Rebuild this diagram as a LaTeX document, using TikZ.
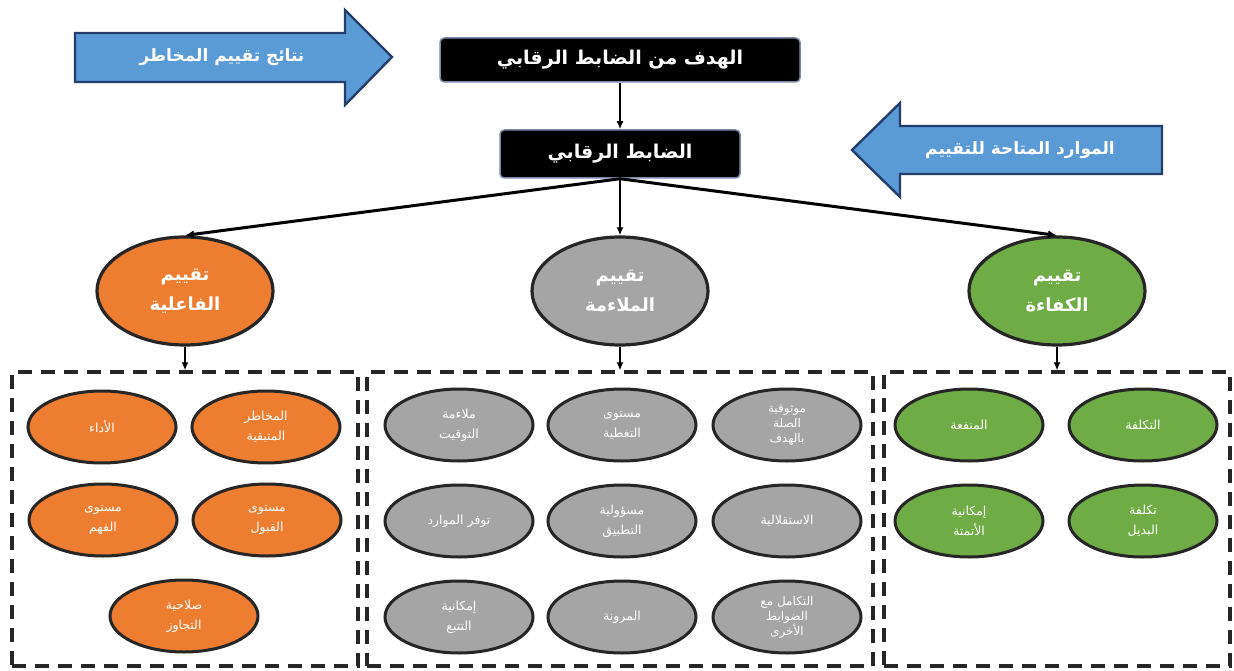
\documentclass[tikz,border=0pt]{standalone}
\usepackage{fontspec}
\usetikzlibrary{shapes.geometric,arrows.meta}
\newfontfamily\arabicfont[Script=Arabic]{DejaVu Sans}
\TeXXeTstate=1
\newcommand{\arl}[1]{\beginR #1\endR}
\definecolor{arrowblue}{HTML}{5B9BD5}
\definecolor{navyedge}{HTML}{233E6B}
\definecolor{effOrange}{HTML}{ED7D31}
\definecolor{fitGray}{HTML}{A5A5A5}
\definecolor{effGreen}{HTML}{6FAC46}
\begin{document}
\begin{tikzpicture}
    [x=1pt, y=-1pt,
    post/.style={-{Latex[length=8pt,width=7pt]},
                 black,
                 line width=2pt},
    fan/.style={-{Latex[length=9pt,width=8pt]},
                black,
                line width=3pt},
    blk/.style={rectangle,
                fill=black,
                draw=navyedge!60,
                line width=1.5pt,
                rounded corners=1.5mm,
                text=white,
                font=\arabicfont\bfseries\fontsize{19}{22}\selectfont},
    blockarrow/.style={fill=arrowblue,
                       draw=navyedge,
                       line width=2.4pt,
                       line join=miter},
    arrowtext/.style={text=white,
                      font=\arabicfont\bfseries\fontsize{17}{20}\selectfont},
    eval/.style={ellipse,
                 draw=black!85,
                 line width=3.2pt,
                 minimum width=176pt,
                 minimum height=108pt,
                 inner sep=0pt,
                 align=center,
                 text=white,
                 font=\arabicfont\bfseries\fontsize{18}{30}\selectfont},
    crit/.style={ellipse,
                 draw=black!85,
                 line width=3pt,
                 minimum width=148pt,
                 minimum height=72pt,
                 inner sep=0pt,
                 align=center,
                 text=white,
                 font=\arabicfont\fontsize{12.5}{20}\selectfont},
    tight/.style={font=\arabicfont\fontsize{12}{15}\selectfont},
    panel/.style={rectangle,
                  draw=black!85,
                  line width=3.2pt,
                  dash pattern=on 14pt off 9pt,
                  minimum height=294pt,
                  inner sep=0pt}]
    \useasboundingbox (0,0) rectangle (1234,671);

    \draw[blockarrow] (75,33) -- (345,33) -- (345,10) -- (392,57)
        -- (345,105) -- (345,82) -- (75,82) -- cycle;
    \node[arrowtext] (riskout) at (222,57) {\arl{نتائج تقييم المخاطر}};
    \draw[blockarrow] (1162,126) -- (900,126) -- (900,103) -- (852,150)
        -- (900,197) -- (900,174) -- (1162,174) -- cycle;
    \node[arrowtext] (resources) at (1020,150) {\arl{الموارد المتاحة للتقييم}};

    \node[blk, minimum width=360pt, minimum height=44pt] (goal) at (620,60)
        {\arl{الهدف من الضابط الرقابي}};
    \node[blk, minimum width=240pt, minimum height=48pt] (ctrl) at (620,154)
        {\arl{الضابط الرقابي}};
    \draw[post] (goal) -- (ctrl);

    \node[eval, fill=effOrange] (eff) at (185,291)
        {\arl{تقييم}\\\arl{الفاعلية}};
    \node[eval, fill=fitGray] (fit) at (620,291)
        {\arl{تقييم}\\\arl{الملاءمة}};
    \node[eval, fill=effGreen] (effic) at (1057,291)
        {\arl{تقييم}\\\arl{الكفاءة}};
    \draw[fan] (ctrl.south) -- (eff.north);
    \draw[post] (ctrl.south) -- (fit.north);
    \draw[fan] (ctrl.south) -- (effic.north);

    \node[panel, minimum width=346pt] (effpanel) at (185,519) {};
    \node[panel, minimum width=506pt] (fitpanel) at (620,519) {};
    \node[panel, minimum width=346pt] (efficpanel) at (1057,519) {};
    \draw[post] (eff) -- (effpanel.north);
    \draw[post] (fit) -- (fitpanel.north);
    \draw[post] (effic) -- (efficpanel.north);

    \node[crit, fill=effOrange] (perf) at (102,427) {\arl{الأداء}};
    \node[crit, fill=effOrange] (residual) at (266,427)
        {\arl{المخاطر}\\\arl{المتبقية}};
    \node[crit, fill=effOrange] (understand) at (103,520)
        {\arl{مستوى}\\\arl{الفهم}};
    \node[crit, fill=effOrange] (accept) at (267,520)
        {\arl{مستوى}\\\arl{القبول}};
    \node[crit, fill=effOrange] (override) at (184,616)
        {\arl{صلاحية}\\\arl{التجاوز}};

    \node[crit, fill=fitGray] (timing) at (459,425)
        {\arl{ملاءمة}\\\arl{التوقيت}};
    \node[crit, fill=fitGray] (coverage) at (622,425)
        {\arl{مستوى}\\\arl{التغطية}};
    \node[crit, tight, fill=fitGray] (relevance) at (787,425)
        {\arl{موثوقية}\\\arl{الصلة}\\\arl{بالهدف}};
    \node[crit, fill=fitGray] (availability) at (459,521)
        {\arl{توفر الموارد}};
    \node[crit, fill=fitGray] (responsibility) at (622,521)
        {\arl{مسؤولية}\\\arl{التطبيق}};
    \node[crit, fill=fitGray] (independence) at (787,521)
        {\arl{الاستقلالية}};
    \node[crit, fill=fitGray] (tracing) at (459,617)
        {\arl{إمكانية}\\\arl{التتبع}};
    \node[crit, fill=fitGray] (flexibility) at (622,617)
        {\arl{المرونة}};
    \node[crit, tight, fill=fitGray] (integration) at (787,617)
        {\arl{التكامل مع}\\\arl{الضوابط}\\\arl{الأخرى}};

    \node[crit, fill=effGreen] (benefit) at (969,425) {\arl{المنفعة}};
    \node[crit, fill=effGreen] (cost) at (1143,425) {\arl{التكلفة}};
    \node[crit, fill=effGreen] (automation) at (969,521)
        {\arl{إمكانية}\\\arl{الأتمتة}};
    \node[crit, fill=effGreen] (altcost) at (1143,521)
        {\arl{تكلفة}\\\arl{البديل}};
\end{tikzpicture}
\end{document}
